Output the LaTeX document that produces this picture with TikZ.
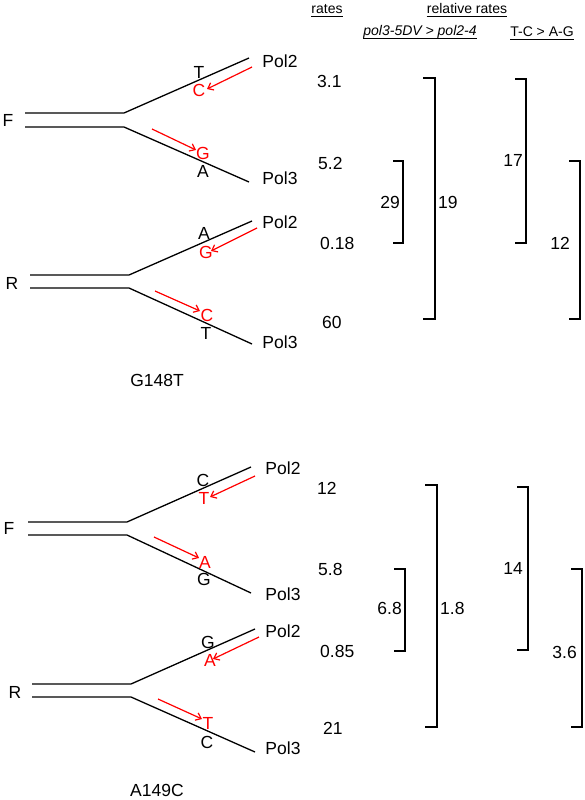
\documentclass[tikz,border=0pt]{standalone}
\usepackage{fontspec}
\setmainfont{Liberation Sans}
\usetikzlibrary{arrows.meta}
\tikzset{
  strand/.style={line width=1.3pt, black},
  brk/.style={line width=1.3pt, black},
  redarr/.style={line width=1.2pt, red, -{Straight Barb[length=5pt,width=8pt]}},
  lbl/.style={inner sep=0pt, font=\fontsize{17.5}{20}\selectfont},
  rlbl/.style={lbl, text=red},
  hdr/.style={inner sep=0pt, anchor=base, font=\fontsize{14}{16}\selectfont},
  ul/.style={line width=0.8pt}
}
\begin{document}
\begin{tikzpicture}[x=1pt,y=-1pt]
\useasboundingbox (0,0) rectangle (585,800);
% ---------- headers
\node[hdr] (h1) at (327,14) {rates};
\node[hdr] (h2) at (467,14) {relative rates};
\node[hdr, font=\fontsize{14}{16}\selectfont\itshape] (h3) at (420,36) {pol3-5DV > pol2-4};
\node[hdr] (h4) at (542,37) {T-C > A-G};
\foreach \h in {h1,h2,h3,h4}{
  \draw[ul] ([yshift=-2pt]\h.base west) -- ([yshift=-2pt]\h.base east);
}
% ---------- fork 1 (F, G148T)
\coordinate (f1a) at (25,113); \coordinate (f1b) at (124,113);
\coordinate (f1c) at (25,127); \coordinate (f1d) at (124,127);
\coordinate (f1u) at (249,58); \coordinate (f1l) at (249,182);
\draw[strand] (f1a) -- (f1b) -- (f1u);
\draw[strand] (f1c) -- (f1d) -- (f1l);
\node[lbl] (F1) at (8,120) {F};
\node[lbl] (p21) at (280,61) {Pol2};
\node[lbl] (p31) at (280,178) {Pol3};
\node[lbl] (t1) at (199,72) {T};
\node[rlbl] (c1) at (199,90) {C};
\node[rlbl] (g1) at (203,153) {G};
\node[lbl] (a1) at (203,171) {A};
\coordinate (r1s) at (252,67); \coordinate (r1e) at (207,89);
\coordinate (r2s) at (152,129); \coordinate (r2e) at (196,150);
\draw[redarr] (r1s) -- (r1e);
\draw[redarr] (r2s) -- (r2e);
% ---------- fork 2 (R, G148T)
\coordinate (f2a) at (30,275); \coordinate (f2b) at (129,275);
\coordinate (f2c) at (30,288); \coordinate (f2d) at (129,288);
\coordinate (f2u) at (252,221); \coordinate (f2l) at (252,344);
\draw[strand] (f2a) -- (f2b) -- (f2u);
\draw[strand] (f2c) -- (f2d) -- (f2l);
\node[lbl] (R2) at (12,283) {R};
\node[lbl] (p22) at (280,222) {Pol2};
\node[lbl] (p32) at (280,342) {Pol3};
\node[lbl] (a2) at (204,233) {A};
\node[rlbl] (g2) at (206,252) {G};
\node[rlbl] (c2) at (207,315) {C};
\node[lbl] (t2) at (206,333) {T};
\coordinate (r3s) at (257,228); \coordinate (r3e) at (211,251);
\coordinate (r4s) at (155,291); \coordinate (r4e) at (200,311);
\draw[redarr] (r3s) -- (r3e);
\draw[redarr] (r4s) -- (r4e);
\node[lbl] (m1) at (157,380) {G148T};
% ---------- fork 3 (F, A149C)
\coordinate (f3a) at (28,522); \coordinate (f3b) at (127,522);
\coordinate (f3c) at (28,535); \coordinate (f3d) at (127,535);
\coordinate (f3u) at (251,467); \coordinate (f3l) at (251,593);
\draw[strand] (f3a) -- (f3b) -- (f3u);
\draw[strand] (f3c) -- (f3d) -- (f3l);
\node[lbl] (F3) at (9,528) {F};
\node[lbl] (p23) at (283,468) {Pol2};
\node[lbl] (p33) at (283,594) {Pol3};
\node[lbl] (c3) at (203,480) {C};
\node[rlbl] (t3) at (204,498) {T};
\node[rlbl] (a3) at (205,562) {A};
\node[lbl] (g3) at (204,579) {G};
\coordinate (r5s) at (255,476); \coordinate (r5e) at (210,497);
\coordinate (r6s) at (154,537); \coordinate (r6e) at (199,558);
\draw[redarr] (r5s) -- (r5e);
\draw[redarr] (r6s) -- (r6e);
% ---------- fork 4 (R, A149C)
\coordinate (f4a) at (32,684); \coordinate (f4b) at (131,684);
\coordinate (f4c) at (32,697); \coordinate (f4d) at (131,697);
\coordinate (f4u) at (255,629); \coordinate (f4l) at (255,752);
\draw[strand] (f4a) -- (f4b) -- (f4u);
\draw[strand] (f4c) -- (f4d) -- (f4l);
\node[lbl] (R4) at (15,692) {R};
\node[lbl] (p24) at (283,631) {Pol2};
\node[lbl] (p34) at (283,748) {Pol3};
\node[lbl] (g4) at (208,642) {G};
\node[rlbl] (a4) at (210,660) {A};
\node[rlbl] (t4) at (208,723) {T};
\node[lbl] (c4) at (207,742) {C};
\coordinate (r7s) at (259,637); \coordinate (r7e) at (213,659);
\coordinate (r8s) at (158,699); \coordinate (r8e) at (202,719);
\draw[redarr] (r7s) -- (r7e);
\draw[redarr] (r8s) -- (r8e);
\node[lbl] (m2) at (157,790) {A149C};
% ---------- rates
\node[lbl, anchor=west] (v1) at (317,81) {3.1};
\node[lbl, anchor=west] (v2) at (318,163) {5.2};
\node[lbl, anchor=west] (v3) at (320,243) {0.18};
\node[lbl, anchor=west] (v4) at (322,322) {60};
\node[lbl, anchor=west] (v5) at (317,488) {12};
\node[lbl, anchor=west] (v6) at (318,569) {5.8};
\node[lbl, anchor=west] (v7) at (320,651) {0.85};
\node[lbl, anchor=west] (v8) at (323,728) {21};
% ---------- brackets top
\coordinate (b1t) at (393,161); \coordinate (b1v) at (403,161); \coordinate (b1w) at (403,243); \coordinate (b1b) at (393,243);
\draw[brk] (b1t) -- (b1v) -- (b1w) -- (b1b);
\node[lbl, anchor=east] (l1) at (400,202) {29};
\coordinate (b2t) at (423,78); \coordinate (b2v) at (435,78); \coordinate (b2w) at (435,319); \coordinate (b2b) at (423,319);
\draw[brk] (b2t) -- (b2v) -- (b2w) -- (b2b);
\node[lbl, anchor=west] (l2) at (438,202) {19};
\coordinate (b3t) at (515,79); \coordinate (b3v) at (526,79); \coordinate (b3w) at (526,243); \coordinate (b3b) at (515,243);
\draw[brk] (b3t) -- (b3v) -- (b3w) -- (b3b);
\node[lbl, anchor=east] (l3) at (523,160) {17};
\coordinate (b4t) at (569,161); \coordinate (b4v) at (580,161); \coordinate (b4w) at (580,319); \coordinate (b4b) at (569,319);
\draw[brk] (b4t) -- (b4v) -- (b4w) -- (b4b);
\node[lbl, anchor=east] (l4) at (570,243) {12};
% ---------- brackets bottom
\coordinate (b5t) at (394,569); \coordinate (b5v) at (405,569); \coordinate (b5w) at (405,651); \coordinate (b5b) at (394,651);
\draw[brk] (b5t) -- (b5v) -- (b5w) -- (b5b);
\node[lbl, anchor=east] (l5) at (402,608) {6.8};
\coordinate (b6t) at (425,485); \coordinate (b6v) at (437,485); \coordinate (b6w) at (437,727); \coordinate (b6b) at (425,727);
\draw[brk] (b6t) -- (b6v) -- (b6w) -- (b6b);
\node[lbl, anchor=west] (l6) at (440,608) {1.8};
\coordinate (b7t) at (517,487); \coordinate (b7v) at (528,487); \coordinate (b7w) at (528,650); \coordinate (b7b) at (517,650);
\draw[brk] (b7t) -- (b7v) -- (b7w) -- (b7b);
\node[lbl, anchor=east] (l7) at (523,568) {14};
\coordinate (b8t) at (571,569); \coordinate (b8v) at (582,569); \coordinate (b8w) at (582,727); \coordinate (b8b) at (571,727);
\draw[brk] (b8t) -- (b8v) -- (b8w) -- (b8b);
\node[lbl, anchor=east] (l8) at (577,652) {3.6};
\end{tikzpicture}
\end{document}
